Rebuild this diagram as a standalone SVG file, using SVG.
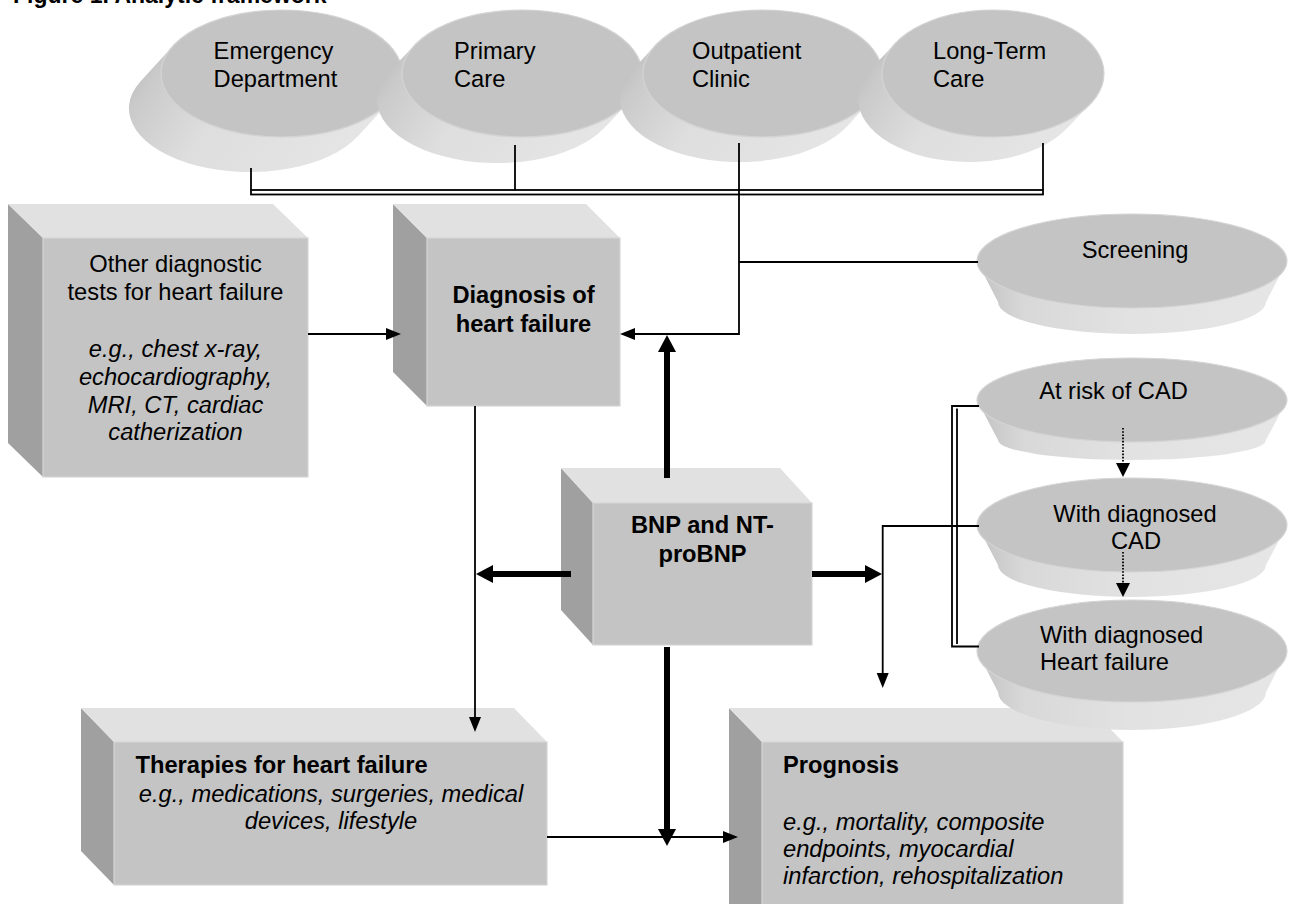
<svg xmlns="http://www.w3.org/2000/svg" width="1291" height="904" viewBox="0 0 1291 904">
<style>
text{font-family:"Liberation Sans",Arial,sans-serif;font-size:23.7px;fill:#000}
.b{font-weight:bold}
.i{font-style:italic}
.m{text-anchor:middle}
.front{fill:#c4c4c4;stroke:#d6d6d6;stroke-width:1.2}
.topf{fill:#e1e1e1}
.sidef{fill:#a0a0a0}
.face{fill:#c4c4c4;stroke:#d4d4d4;stroke-width:1.2}
.band{fill:url(#gBand)}
.dside{fill:url(#gSide)}
.ln{fill:none;stroke:#000;stroke-width:1.8}
.thick{fill:none;stroke:#000;stroke-width:6}
.dot{fill:none;stroke:#000;stroke-width:1.8;stroke-dasharray:1.6 1.6}
</style>
<defs>
<linearGradient id="gSide" x1="0" y1="0" x2="1" y2="0.4">
<stop offset="0" stop-color="#a8a8a8"/>
<stop offset="0.22" stop-color="#cacaca"/>
<stop offset="0.5" stop-color="#dedede"/>
<stop offset="1" stop-color="#e5e5e5"/>
</linearGradient>
<linearGradient id="gBand" x1="0" y1="0" x2="1" y2="0">
<stop offset="0" stop-color="#c2c2c2"/>
<stop offset="0.15" stop-color="#d8d8d8"/>
<stop offset="0.5" stop-color="#e2e2e2"/>
<stop offset="1" stop-color="#e6e6e6"/>
</linearGradient>
<marker id="ah" markerUnits="userSpaceOnUse" viewBox="0 -7 16 14" markerWidth="16" markerHeight="14" refX="0" refY="0" orient="auto" overflow="visible">
<path d="M0,-6 L15,0 L0,6 Z" fill="#000"/>
</marker>
<marker id="ahT" markerUnits="userSpaceOnUse" viewBox="0 -10 18 20" markerWidth="18" markerHeight="20" refX="0" refY="0" orient="auto" overflow="visible">
<path d="M0,-9 L17,0 L0,9 Z" fill="#000"/>
</marker>
<marker id="ahD" markerUnits="userSpaceOnUse" viewBox="0 -8 15 16" markerWidth="15" markerHeight="16" refX="0" refY="0" orient="auto" overflow="visible">
<path d="M0,-7 L14,0 L0,7 Z" fill="#000"/>
</marker>
</defs>
<rect width="1291" height="904" fill="#fff"/>
<text class="b" x="13" y="3" style="font-size:23px">Figure 1. Analytic framework</text>

<g id="emergency">
<path class="dside" d="M390.1,101.1 L358.1,136.1 A120.5,63.5 0 0 1 140.9,80.9 L172.9,45.9 A120.5,63.5 0 0 1 390.1,101.1 Z"/>
<ellipse class="face" cx="281.5" cy="73.5" rx="120.5" ry="63.5"/>
<text x="213.6" y="59.3">Emergency</text>
<text x="213.6" y="87.3">Department</text>
</g>
<g id="primary">
<path class="dside" d="M629,102.3 L604,128.3 A120,63.5 0 0 1 390,70.7 L415,44.7 A120,63.5 0 0 1 629,102.3 Z"/>
<ellipse class="face" cx="522" cy="73.5" rx="120" ry="63.5"/>
<text x="454" y="59.3">Primary</text>
<text x="454" y="87.3">Care</text>
</g>
<g id="outpatient">
<path class="dside" d="M869.9,101.4 L846.9,126.4 A119.5,63.5 0 0 1 632.1,70.6 L655.1,45.6 A119.5,63.5 0 0 1 869.9,101.4 Z"/>
<ellipse class="face" cx="762.5" cy="73.5" rx="119.5" ry="63.5"/>
<text x="692" y="59.3">Outpatient</text>
<text x="692" y="87.3">Clinic</text>
</g>
<g id="longterm">
<path class="dside" d="M1090.3,104.1 L1066.3,129.1 A111,63.5 0 0 1 871.7,67.9 L895.7,42.9 A111,63.5 0 0 1 1090.3,104.1 Z"/>
<ellipse class="face" cx="993" cy="73.5" rx="111" ry="63.5"/>
<text x="933" y="59.3">Long-Term</text>
<text x="933" y="87.3">Care</text>
</g>

<g id="other">
<polygon class="sidef" points="43,238 8,204 8,443 43,477"/>
<polygon class="topf" points="43,238 8,204 273,204 308,238"/>
<rect class="front" x="43" y="238" width="265" height="239"/>
<text class="m" x="175.5" y="271.7">Other diagnostic</text>
<text class="m" x="175.5" y="300">tests for heart failure</text>
<text class="m i" x="175.5" y="356.7">e.g., chest x-ray,</text>
<text class="m i" x="175.5" y="385">echocardiography,</text>
<text class="m i" x="175.5" y="412.7">MRI, CT, cardiac</text>
<text class="m i" x="175.5" y="440">catherization</text>
</g>
<g id="diagnosis">
<polygon class="sidef" points="427,238 393,204 393,372 427,406"/>
<polygon class="topf" points="427,238 393,204 586,204 620,238"/>
<rect class="front" x="427" y="238" width="193" height="168"/>
<text class="m b" x="523.5" y="303">Diagnosis of</text>
<text class="m b" x="523.5" y="332">heart failure</text>
</g>
<g id="bnp">
<polygon class="sidef" points="593,503 561,468 561,610 593,645"/>
<polygon class="topf" points="593,503 561,468 780,468 812,503"/>
<rect class="front" x="593" y="503" width="219" height="142"/>
<text class="m b" x="702.5" y="533">BNP and NT-</text>
<text class="m b" x="702.5" y="562">proBNP</text>
</g>
<g id="therapies">
<polygon class="sidef" points="114,742 81,708 81,851 114,885"/>
<polygon class="topf" points="114,742 81,708 514,708 547,742"/>
<rect class="front" x="114" y="742" width="433" height="143"/>
<text class="b" x="135.5" y="773">Therapies for heart failure</text>
<text class="m i" x="331" y="802">e.g., medications, surgeries, medical</text>
<text class="m i" x="331" y="828.5">devices, lifestyle</text>
</g>
<g id="prognosis">
<polygon class="sidef" points="762,742 729,708 729,910 762,910"/>
<polygon class="topf" points="762,742 729,708 1090,708 1123,742"/>
<rect class="front" x="762" y="742" width="361" height="170"/>
<text class="b" x="783" y="773">Prognosis</text>
<text class="i" x="783" y="830">e.g., mortality, composite</text>
<text class="i" x="783" y="857">endpoints, myocardial</text>
<text class="i" x="783" y="883.5">infarction, rehospitalization</text>
</g>

<g id="screening">
<path class="band" d="M977,261 L998,302 A134,32 0 0 0 1266,302 L1287,261 Z"/>
<ellipse class="face" cx="1132" cy="261" rx="155" ry="47"/>
<text class="m" x="1135" y="258">Screening</text>
</g>
<g id="atrisk">
<path class="band" d="M977,400 L998,440 A134,20 0 0 0 1266,440 L1287,400 Z"/>
<ellipse class="face" cx="1132" cy="400" rx="155" ry="42"/>
<text class="m" x="1113.5" y="399">At risk of CAD</text>
</g>
<g id="cad">
<path class="band" d="M977,525 L998,565 A134,32 0 0 0 1266,565 L1287,525 Z"/>
<ellipse class="face" cx="1132" cy="525" rx="155" ry="47"/>
<text class="m" x="1135" y="522">With diagnosed</text>
<text class="m" x="1136" y="549">CAD</text>
</g>
<g id="hf">
<path class="band" d="M977,651 L998,692 A134,38 0 0 0 1266,692 L1287,651 Z"/>
<ellipse class="face" cx="1132" cy="651" rx="155" ry="51"/>
<text x="1040" y="643">With diagnosed</text>
<text x="1040" y="670">Heart failure</text>
</g>

<g id="connectors">
<line class="ln" x1="251" y1="168" x2="251" y2="190"/>
<line class="ln" x1="515" y1="145" x2="515" y2="190"/>
<line class="ln" x1="1043" y1="143" x2="1043" y2="190"/>
<rect class="ln" x="251" y="190" width="792" height="4.5"/>
<path class="ln" d="M739,143 V334 H635" marker-end="url(#ah)"/>
<path class="ln" d="M739,262 H978"/>
<path class="ln" d="M308,334 H386" marker-end="url(#ah)"/>
<path class="ln" d="M475,406 V717" marker-end="url(#ah)"/>
<path class="thick" d="M667,478 V352" marker-end="url(#ahT)"/>
<path class="thick" d="M571,574 H493" marker-end="url(#ahT)"/>
<path class="thick" d="M812,574 H865" marker-end="url(#ahT)"/>
<path class="thick" d="M667,647 V829" marker-end="url(#ahT)"/>
<path class="ln" d="M979,526 H882.7 V673" marker-end="url(#ah)"/>
<path class="ln" d="M979,406 H952 V646.5 H979"/>
<line class="ln" x1="957" y1="408.5" x2="957" y2="644"/>
<path class="dot" d="M1123,428 V463" marker-end="url(#ahD)"/>
<path class="dot" d="M1123,552 V583" marker-end="url(#ahD)"/>
<path class="ln" d="M547,837 H723" marker-end="url(#ah)"/>
</g>
</svg>
